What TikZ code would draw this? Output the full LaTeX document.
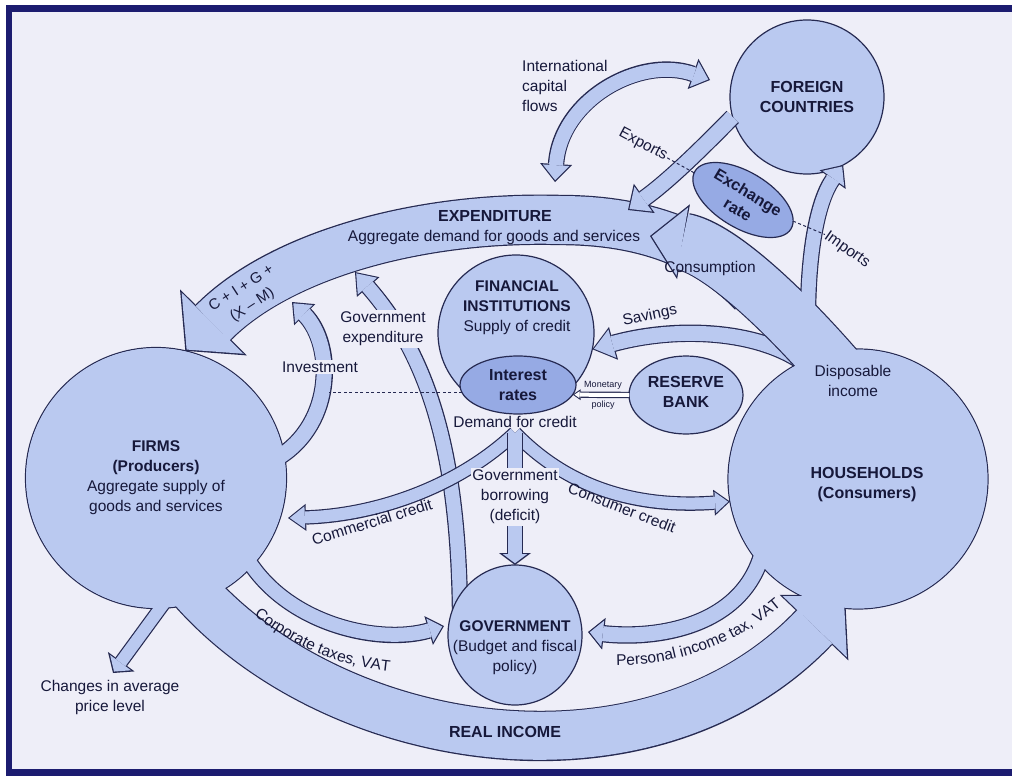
\documentclass[tikz,border=0pt]{standalone}
\usepackage{fontspec}
\setmainfont{Liberation Sans}
\usetikzlibrary{arrows.meta, shapes.geometric, decorations.text}

\definecolor{bgcol}{RGB}{238,238,248}
\definecolor{framecol}{RGB}{28,28,112}
\definecolor{edgecol}{RGB}{38,42,82}
\definecolor{flowblue}{RGB}{186,201,240}
\definecolor{ratecol}{RGB}{150,170,228}
\definecolor{inkcol}{RGB}{22,24,58}

% block arrows: shaft width, tip length, tip width (pt)
\newcommand\flowsetup[3]{%
  \pgfmathsetmacro\flowL{#2-3}%
  \pgfmathsetmacro\flowW{#3*(#2-3)/#2}%
  \pgfmathsetmacro\flowO{#1+2.4}%
  \edef\flowedgeopts{draw=edgecol, line width=\flowO pt, shorten >=0pt, shorten <=0pt,
    -{Triangle[length=#2pt, width=#3pt, line width=0pt]}}%
  \edef\flowfillopts{draw=flowblue, line width=#1pt, shorten >=1.8pt,
    -{Triangle[length=\flowL pt, width=\flowW pt, line width=0pt]}}%
}
\tikzset{
  flowedge/.code n args={3}{\flowsetup{#1}{#2}{#3}%
    \expandafter\tikzset\expandafter{\flowedgeopts}},
  flowfill/.code n args={3}{\flowsetup{#1}{#2}{#3}%
    \expandafter\tikzset\expandafter{\flowfillopts}},
  flow/.code n args={3}{\flowsetup{#1}{#2}{#3}%
    \edef\flowall{\flowfillopts, preaction={\flowedgeopts}}%
    \expandafter\tikzset\expandafter{\flowall}},
  flowtwo/.code n args={3}{\flowsetup{#1}{#2}{#3}%
    \edef\flowall{draw=flowblue, line width=#1pt, shorten >=1.8pt, shorten <=1.8pt,
      {Triangle[length=\flowL pt, width=\flowW pt, line width=0pt]}-{Triangle[length=\flowL pt, width=\flowW pt, line width=0pt]},
      preaction={draw=edgecol, line width=\flowO pt, shorten >=0pt, shorten <=0pt,
      {Triangle[length=#2pt, width=#3pt, line width=0pt]}-{Triangle[length=#2pt, width=#3pt, line width=0pt]}}}%
    \expandafter\tikzset\expandafter{\flowall}},
}

\begin{document}
\begin{tikzpicture}[x=1pt, y=-1pt,
  bigcirc/.style={circle, draw=edgecol, line width=1.2pt, fill=flowblue, inner sep=0pt, outer sep=0pt},
  bigoval/.style={ellipse, draw=edgecol, line width=1.2pt, fill=flowblue, inner sep=0pt, outer sep=0pt},
  rateoval/.style={bigoval, fill=ratecol},
  lbl/.style={font=\fontsize{15.5}{20}\selectfont, text=inkcol, align=center, inner sep=1pt},
  head/.style={lbl, font=\fontsize{16}{20}\selectfont\bfseries},
  small/.style={lbl, font=\fontsize{9}{10}\selectfont},
  gap/.style={fill=bgcol, inner sep=1.5pt},
  link/.style={draw=edgecol, line width=1pt, dash pattern=on 3pt off 2.5pt},
  curved/.style={decorate, decoration={text along path, text align=center, text color=inkcol}}]

  \useasboundingbox (0,0) rectangle (1012,776);
  % page and frame
  \fill[white] (0,0) rectangle (1012,776);
  \fill[bgcol] (12,12) rectangle (1012,769);
  \fill[framecol] (6,5) rectangle (1012,12);
  \fill[framecol] (6,5) rectangle (12,776);
  \fill[framecol] (6,769) rectangle (1012,776);

  % sectors
  \node[bigcirc, minimum size=261pt] (firms) at (156,478) {};
  \node[bigcirc, minimum size=260pt] (hh) at (858,479) {};
  \node[bigcirc, minimum size=154pt] (fc) at (807,97) {};
  \node[bigcirc, minimum size=156pt] (fi) at (516,333) {};
  \node[rateoval, minimum width=116pt, minimum height=58pt] (ir) at (518,385) {};
  \node[bigoval, minimum width=114pt, minimum height=78pt] (rb) at (686,395) {};

  % ends of the flows
  \coordinate (ristart) at (170,560);
  \coordinate (riend) at (845,595);
  \coordinate (svstart) at (815,372);
  \coordinate (chstart) at (170,595);
  \coordinate (chend) at (113,673);
  \coordinate (expstart) at (753,292);
  \coordinate (expmid) at (560,220);
  \coordinate (cnstart) at (845,380);
  \coordinate (cnend) at (650,236);
  \coordinate (impstart) at (808,318);
  \coordinate (ivstart) at (270,462);
  \coordinate (ivend) at (292,302);
  \coordinate (ctstart) at (245,555);
  \coordinate (ctend) at (444,626);
  \coordinate (ptstart) at (765,540);
  \coordinate (ptend) at (588,632);
  \coordinate (gestart) at (460,610);
  \coordinate (geend) at (355,272);
  \coordinate (exend) at (628,210);
  \coordinate (icfdown) at (555,182);
  \coordinate (icfright) at (710,80);
  \coordinate (credit) at (515,433);
  \coordinate (ccend) at (288,518);
  \coordinate (invpt) at (329,393);

  % income loop: outlines first, then fills, so the flows merge with the sectors
  \draw[flowedge={48}{45}{95}] (ristart) .. controls (300,745) and (640,810) .. (riend);
  \draw[flowedge={15}{22}{34}] (svstart) .. controls (770,330) and (680,325) .. (fi.-12);
  \draw[flowedge={12}{14}{33}] (chstart) -- (chend);
  \draw[flowfill={48}{45}{95}] (ristart) .. controls (300,745) and (640,810) .. (riend);
  \draw[flowfill={15}{22}{34}] (svstart) .. controls (770,330) and (680,325) .. (fi.-12);
  \draw[flowfill={12}{14}{33}] (chstart) -- (chend);

  \draw[flow={48}{40}{94}] (expstart) .. controls (705,242) and (640,220) .. (expmid)
    .. controls (420,216) and (280,255) .. (firms.77);

  \draw[flowedge={56}{34}{76}] (cnstart) .. controls (790,315) and (720,248) .. (cnend);
  \draw[flowedge={14}{18}{32}] (impstart) .. controls (808,250) and (818,200) .. (fc.-62);
  \draw[flowfill={56}{34}{76}] (cnstart) .. controls (790,315) and (720,248) .. (cnend);
  \draw[flowfill={14}{18}{32}] (impstart) .. controls (808,250) and (818,200) .. (fc.-62);

  \draw[flow={15}{18}{30}] (ivstart) .. controls (335,430) and (335,345) .. (ivend);
  \draw[flow={14}{16}{30}] (ctstart) .. controls (285,625) and (380,645) .. (ctend);
  \draw[flow={15}{16}{32}] (ptstart) .. controls (752,625) and (660,640) .. (ptend);
  \fill[flowblue] (firms.center) circle[radius=129.9pt];
  \fill[flowblue] (hh.center) circle[radius=129.4pt];

  \node[rateoval, rotate=-31, minimum width=112pt, minimum height=56pt] (xr) at (743,200) {};

  \draw[flow={14}{20}{30}] (gestart) .. controls (458,460) and (432,360) .. (geend);
  \node[bigoval, minimum width=134pt, minimum height=140pt] (gov) at (515,635) {};

  \draw[flow={15}{20}{36}] (fc.195) .. controls (705,145) and (670,180) .. (exend);
  \draw[flowtwo={14}{18}{32}] (icfdown) .. controls (560,100) and (640,55) .. (icfright);
  \draw[flow={12}{18}{27}] (credit) .. controls (460,485) and (380,515) .. (ccend);
  \draw[flow={12}{16}{26}] (credit) .. controls (570,490) and (640,508) .. (hh.190);
  \draw[flow={14}{12}{32}] (credit) -- (gov.north);
  \draw[flow={4}{8}{11}, draw=white] (rb.west) -- (ir.-10);

  % texts
  \node[lbl] (firmslbl) at (156,478) {\textbf{FIRMS}\\\textbf{(Producers)}\\Aggregate supply of\\goods and services};
  \node[head] (hhlbl) at (867,485) {HOUSEHOLDS\\(Consumers)};
  \node[lbl] (displbl) at (853,381) {Disposable\\income};
  \node[head] (fclbl) at (807,97) {FOREIGN\\COUNTRIES};
  \node[lbl] (filbl) at (517,308) {\textbf{FINANCIAL}\\\textbf{INSTITUTIONS}\\Supply of credit};
  \node[head] (irlbl) at (518,385) {Interest\\rates};
  \node[head] (rblbl) at (686,392) {RESERVE\\BANK};
  \node[lbl] (govlbl) at (515,648) {\textbf{GOVERNMENT}\\(Budget and fiscal\\policy)};
  \node[head, rotate=-31] (xrlbl) at (743,201) {Exchange\\rate};
  \node[head] (explbl) at (495,216) {EXPENDITURE};
  \node[lbl] (aglbl) at (494,237) {Aggregate demand for goods and services};
  \node[head] (rilbl) at (505,732) {REAL INCOME};
  \node[lbl, font=\fontsize{15}{20}\selectfont, rotate=33] (ciglbl) at (247,297) {C + I + G +\\(X -- M)};
  \node[lbl, gap] (invlbl) at (320,367) {Investment};
  \node[lbl, gap] (gelbl) at (383,329) {Government\\expenditure};
  \node[lbl, rotate=12] (svlbl) at (650,316) {Savings};
  \node[lbl] (cnlbl) at (710,268) {Consumption};
  \node[small] (monlbl) at (603,385) {Monetary};
  \node[small] (pollbl) at (603,405) {policy};
  \node[lbl] (dclbl) at (515,422) {Demand for credit};
  \node[lbl, rotate=17] (cclbl) at (372,522) {Commercial credit};
  \node[lbl, gap] (gblbl) at (515,497) {Government\\borrowing\\(deficit)};
  \node[lbl, rotate=-21] (conlbl) at (622,508) {Consumer credit};
  \node[lbl] (chlbl) at (110,697) {Changes in average\\price level};
  \node[lbl, anchor=west, align=left] (icflbl) at (521,86) {International\\capital\\flows};
  \node[lbl, rotate=-28] (exlbl) at (643,145) {Exports};
  \node[lbl, rotate=-35] (imlbl) at (847,250) {Imports};
  \path[curved, decoration={text={|\fontsize{15.5}{20}\selectfont|Corporate taxes, VAT}}]
    (250,612) .. controls (290,645) and (340,668) .. (395,672);
  \path[curved, decoration={text={|\fontsize{15.5}{20}\selectfont|Personal income tax, VAT}}]
    (605,665) .. controls (680,668) and (745,640) .. (790,598);

  % links to the rates
  \draw[link] (ir.188) -- (ir.188 -| invpt);
  \draw[link] (exlbl.east) -- (xr);
  \draw[link] (xr) -- (imlbl.west);
\end{tikzpicture}
\end{document}
